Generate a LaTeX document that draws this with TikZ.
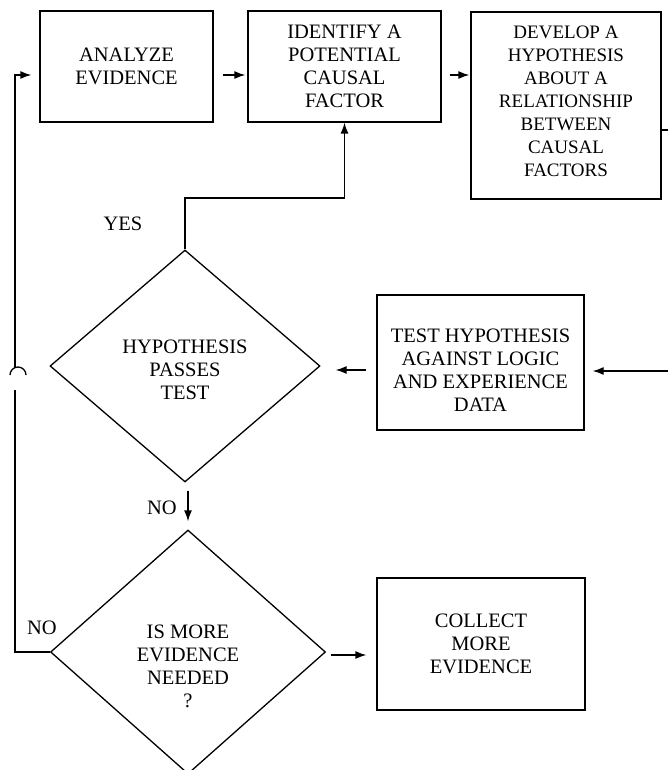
\documentclass[tikz,border=0pt]{standalone}
\usepackage{fontspec}
\setmainfont{Liberation Serif}
\usetikzlibrary{shapes.geometric,arrows.meta}

\tikzset{
  stepbox/.style={draw, line width=1.3pt, align=center, inner sep=0pt},
  choice/.style={diamond, draw, line width=1.3pt, align=center, inner sep=0pt},
  flow/.style={line width=1.3pt, -{Latex[length=11pt,width=8pt]}},
  wire/.style={line width=1.3pt},
  inside/.style={align=center, font=\fontsize{20.5}{23}\selectfont},
}

\begin{document}
\begin{tikzpicture}[x=1pt, y=-1pt, font=\fontsize{20.5}{23}\selectfont]
  \useasboundingbox (0,0) rectangle (668,770);
  \clip (0,0) rectangle (668,770);

  % top row
  \node[stepbox, minimum width=173pt, minimum height=111pt] (analyze) at (126.5,66.5) {ANALYZE\\EVIDENCE};
  \node[stepbox, minimum width=193pt, minimum height=111pt] (identify) at (344.5,66.5) {IDENTIFY A\\POTENTIAL\\CAUSAL\\FACTOR};
  \node[stepbox, minimum width=190pt, minimum height=187pt, font=\fontsize{19}{23}\selectfont,
        label={[inside, name=developtxt, font=\fontsize{19}{23}\selectfont, yshift=4pt]center:DEVELOP A\\HYPOTHESIS\\ABOUT A\\RELATIONSHIP\\BETWEEN\\CAUSAL\\FACTORS}]
    (develop) at (566,105.5) {};

  % middle row
  \node[choice, minimum width=270pt, minimum height=232pt,
        label={[inside, name=passtxt, yshift=-4pt]center:HYPOTHESIS\\PASSES\\TEST}] (pass) at (185,366) {};
  \node[stepbox, minimum width=207pt, minimum height=135pt,
        label={[inside, name=testtxt, yshift=-8pt]center:TEST HYPOTHESIS\\AGAINST LOGIC\\AND EXPERIENCE\\DATA}]
    (test) at (480.5,362.5) {};

  % bottom row
  \node[choice, minimum width=275pt, minimum height=244pt,
        label={[inside, name=moretxt, yshift=-14pt]center:IS MORE\\EVIDENCE\\NEEDED\\?}] (more) at (188,652) {};
  \node[stepbox, minimum width=208pt, minimum height=132pt] (collect) at (481,644) {COLLECT\\MORE\\EVIDENCE};

  % labels
  \node (yes) at (123,224) {YES};
  \node (nodown) at (162,508) {NO};
  \node (noleft) at (42,628) {NO};

  % connectors
  \draw[flow, shorten <=9pt, shorten >=2pt] (analyze.east) ++(0,8.5) coordinate (aout) (aout) -- (aout -| identify.west);
  \draw[flow, shorten <=8pt, shorten >=1pt] (identify.east) ++(0,8.5) coordinate (iout) (iout) -- (iout -| develop.west);
  \draw[wire] ([yshift=-24.5pt]develop.east) -- ++(20,0);

  \coordinate (yesbend) at (185,198);
  \draw[flow] (pass.north) -- (yesbend) -| (identify.south);

  \coordinate (feedin) at (700,371);
  \draw[flow, shorten >=8pt] (feedin) -- (feedin -| test.east);
  \draw[flow, shorten <=10pt, shorten >=15pt] ([yshift=-7.5pt]test.west) -- ([yshift=-7.5pt]test.west -| pass.east);

  \draw[flow, shorten <=8pt, shorten >=8pt] (more.north |- pass.south) -- (more.north);
  \draw[flow, shorten <=5pt, shorten >=10pt] ([yshift=-3pt]more.east) -- ([yshift=-3pt]more.east -| collect.west);

  % loop back with a hop
  \coordinate (loopbot) at (15,652);
  \coordinate (looptop) at (15,75);
  \coordinate (hopend) at (15,390);
  \draw[wire] (more.west) -- (loopbot) -- (hopend);
  \draw[wire] (10,375) arc (180:360:8);
  \draw[flow, shorten >=8pt] (15,367.5) -- (looptop) -- (looptop -| analyze.west);
\end{tikzpicture}
\end{document}
